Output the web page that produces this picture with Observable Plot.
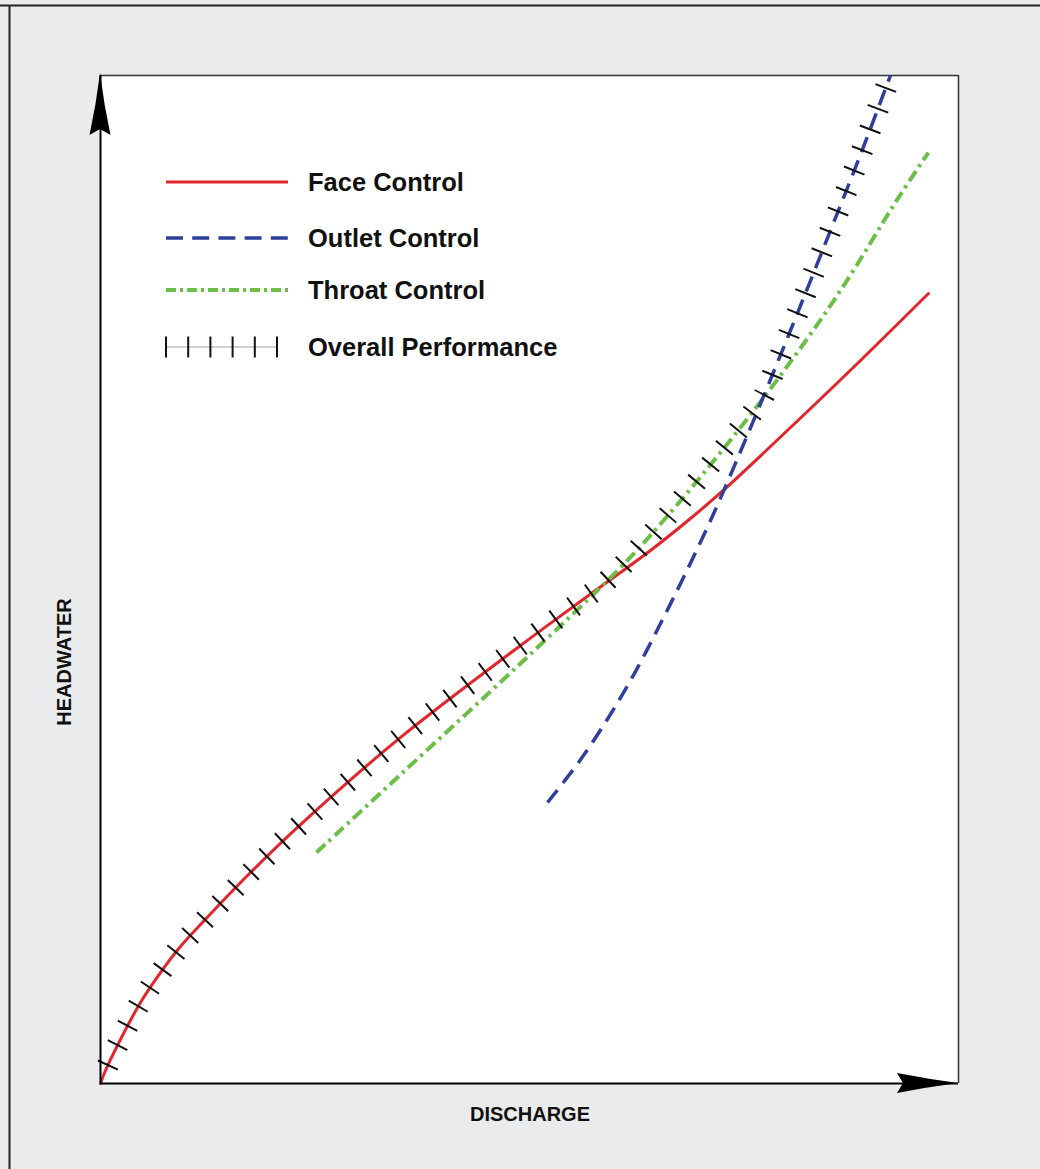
<!DOCTYPE html>
<html><head><meta charset="utf-8">
<script src="https://cdn.jsdelivr.net/npm/d3@7"></script>
<script src="https://cdn.jsdelivr.net/npm/@observablehq/plot@0.6"></script>
<style>
html,body{margin:0;padding:0;background:#eaebec;}
#wrap{position:relative;width:1040px;height:1169px;overflow:hidden;}
svg text{font-family:"Liberation Sans",Arial,sans-serif;font-weight:bold;}
</style></head><body><div id="wrap"></div>
<script>
// ---- data (discharge / headwater, arbitrary units 0-100) ----
const faceX    = [0, 0.58, 2.33, 4.66, 6.99, 9.32, 11.66, 17.48, 23.31, 34.97, 48.95, 56.88, 64.10, 68.76, 72.84, 80.42, 88.58, 96.50];
const faceY    = [0, 1.29, 4.37, 8.04, 11.01, 13.59, 15.77, 20.93, 25.69, 34.33, 43.45, 48.41, 52.88, 56.05, 59.03, 65.08, 71.73, 78.37];
const throatX  = [25.17, 34.97, 48.95, 60.61, 65.62, 72.26, 79.25, 86.25, 93.01, 96.50];
const throatY  = [22.92, 30.65, 41.67, 51.19, 55.85, 62.60, 70.24, 78.67, 87.90, 92.36];
const outletX  = [52.10, 55.71, 59.21, 62.35, 65.27, 67.95, 71.10, 74.59, 78.09, 81.59, 85.08, 88.58, 92.07];
const outletY  = [27.88, 31.85, 36.31, 40.87, 45.63, 50.20, 55.85, 62.70, 69.84, 77.18, 84.62, 92.16, 100];
const overallX = [0, 0.58, 2.33, 4.66, 6.99, 9.32, 11.66, 17.48, 23.31, 34.97, 48.95, 56.88, 58.28, 60.61, 65.62, 72.26, 77.16, 78.09, 81.59, 85.08, 88.58, 92.07];
const overallY = [0, 1.29, 4.37, 8.04, 11.01, 13.59, 15.77, 20.93, 25.69, 34.33, 43.45, 48.41, 49.31, 51.19, 55.85, 62.60, 68.00, 69.84, 77.18, 84.62, 92.16, 100];
const legendLabels = ["Face Control", "Outlet Control", "Throat Control", "Overall Performance"];
const xTitle = "DISCHARGE";
const yTitle = "HEADWATER";

const rows = (xs, ys) => xs.map((x, i) => ({x, y: ys[i]}));
const face = rows(faceX, faceY), throat = rows(throatX, throatY), outlet = rows(outletX, outletY), overall = rows(overallX, overallY);

const RED = "#e3262b", BLUE = "#2f3f9c", GREEN = "#6cbf46";

const chart = Plot.plot({
  width: 1040, height: 1169,
  marginLeft: 100, marginTop: 75, marginRight: 82, marginBottom: 86,
  x: {domain: [0, 100], axis: null},
  y: {domain: [0, 100], axis: null},
  style: {background: "transparent", overflow: "visible"},
  marks: [
    Plot.frame({fill: "white", stroke: null}),
    Plot.ruleY([100], {stroke: "#333", strokeWidth: 1.5}),
    Plot.ruleX([100], {stroke: "#333", strokeWidth: 1.5}),
    Plot.line(face, {x: "x", y: "y", stroke: RED, strokeWidth: 3, curve: "catmull-rom"}),
    Plot.line(throat, {x: "x", y: "y", stroke: GREEN, strokeWidth: 4, curve: "catmull-rom", strokeDasharray: "12,5,3,5", strokeLinecap: "butt"}),
    Plot.line(outlet, {x: "x", y: "y", stroke: BLUE, strokeWidth: 3.5, curve: "catmull-rom", strokeDasharray: "16,9", strokeLinecap: "butt"}),
    Plot.line(overall, {x: "x", y: "y", stroke: "#111", strokeWidth: 22, curve: "catmull-rom", strokeDasharray: "2,20", strokeDashoffset: 3, strokeLinecap: "butt", strokeLinejoin: "miter"}),
    Plot.ruleX([0], {stroke: "#000", strokeWidth: 2}),
    Plot.ruleY([0], {stroke: "#000", strokeWidth: 2})
  ]
});

document.getElementById("wrap").appendChild(chart);
const svg = d3.select(chart);
const sx = chart.scale("x"), sy = chart.scale("y");
const x0 = sx.apply(0), x1 = sx.apply(100), y0 = sy.apply(0), y1 = sy.apply(100);

// outer border (top and left)
svg.append("line").attr("x1", 0).attr("x2", 1040).attr("y1", 5.5).attr("y2", 5.5).attr("stroke", "#222").attr("stroke-width", 2);
svg.append("line").attr("x1", 9.5).attr("x2", 9.5).attr("y1", 5).attr("y2", 1169).attr("stroke", "#222").attr("stroke-width", 2);

// arrowheads
svg.append("path")
  .attr("d", `M${x0},${y1 - 2} Q${x0 - 4},${y1 + 30} ${x0 - 10.5},${y1 + 60} L${x0},${y1 + 54} L${x0 + 10.5},${y1 + 60} Q${x0 + 4},${y1 + 30} ${x0},${y1 - 2}Z`)
  .attr("fill", "#000");
svg.append("path")
  .attr("d", `M${x1},${y0} Q${x1 - 30},${y0 - 4} ${x1 - 61},${y0 - 10} L${x1 - 55},${y0} L${x1 - 61},${y0 + 10} Q${x1 - 30},${y0 + 4} ${x1},${y0}Z`)
  .attr("fill", "#000");

// legend
const lg = svg.append("g").attr("text-anchor", "start");
const ly = [182, 238, 290, 347];
const lx0 = 166, lx1 = 288;
lg.append("line").attr("x1", lx0).attr("x2", lx1).attr("y1", ly[0]).attr("y2", ly[0]).attr("stroke", RED).attr("stroke-width", 3);
lg.append("line").attr("x1", lx0).attr("x2", lx1).attr("y1", ly[1]).attr("y2", ly[1]).attr("stroke", BLUE).attr("stroke-width", 3.5).attr("stroke-dasharray", "17,9.2");
lg.append("line").attr("x1", lx0).attr("x2", lx1).attr("y1", ly[2]).attr("y2", ly[2]).attr("stroke", GREEN).attr("stroke-width", 4).attr("stroke-dasharray", "10,4,3,4");
lg.append("line").attr("x1", lx0).attr("x2", lx0 + 111).attr("y1", ly[3]).attr("y2", ly[3]).attr("stroke", "#888").attr("stroke-width", 0.8);
d3.range(6).forEach(i => {
  const xx = lx0 + i * 22.2;
  lg.append("line").attr("x1", xx).attr("x2", xx).attr("y1", ly[3] - 10.5).attr("y2", ly[3] + 10.5).attr("stroke", "#111").attr("stroke-width", 2);
});
legendLabels.forEach((t, i) => {
  lg.append("text").attr("x", 308).attr("y", ly[i] + 9).attr("text-anchor", "start").attr("font-size", 25.5).attr("fill", "#111").text(t);
});

// axis titles
svg.append("text").attr("x", (x0 + x1) / 2 + 1).attr("y", 1121).attr("text-anchor", "middle").attr("font-size", 20).attr("fill", "#111").text(xTitle);
svg.append("text").attr("transform", "translate(71,662) rotate(-90)").attr("text-anchor", "middle").attr("font-size", 20).attr("fill", "#111").text(yTitle);
</script></body></html>
